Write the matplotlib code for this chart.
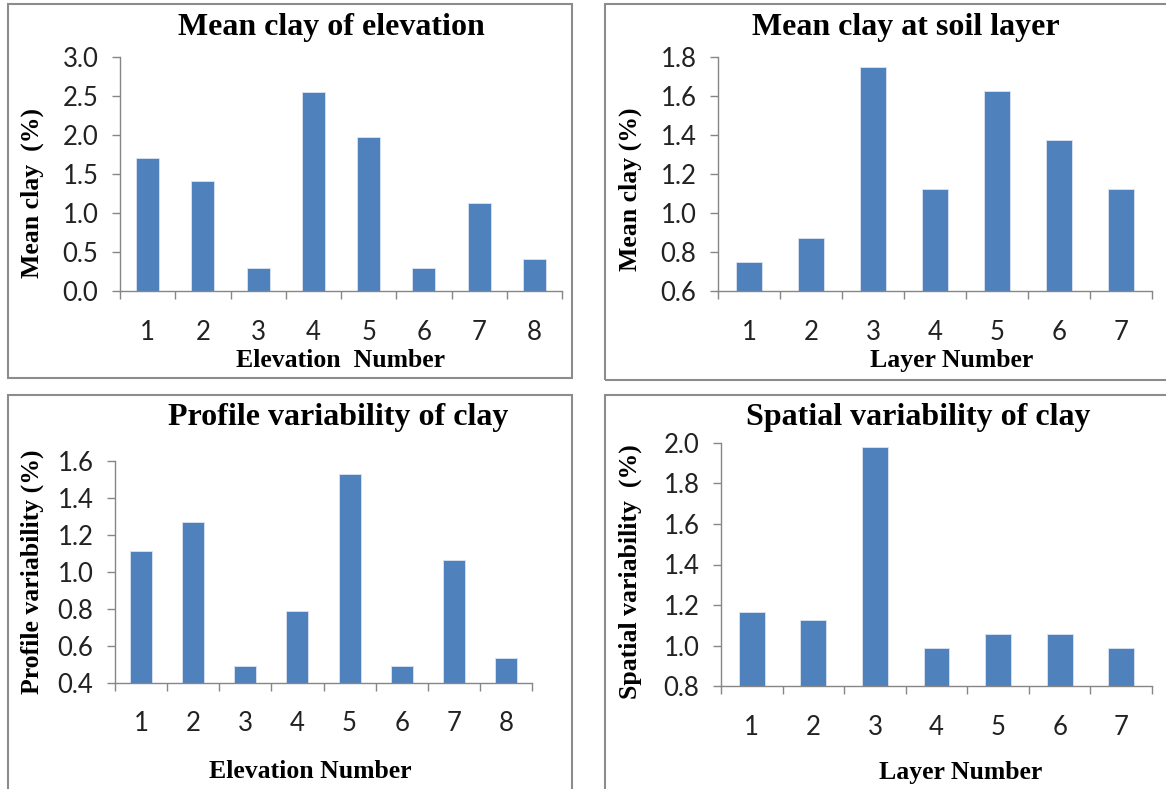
import matplotlib.pyplot as plt
from matplotlib import ticker
from matplotlib.patches import Rectangle
import numpy as np

# data
elev_cats = ['1', '2', '3', '4', '5', '6', '7', '8']
layer_cats = ['1', '2', '3', '4', '5', '6', '7']
mean_clay_elev = [1.71, 1.41, 0.29, 2.55, 1.98, 0.29, 1.13, 0.41]
mean_clay_layer = [0.75, 0.87, 1.75, 1.125, 1.625, 1.375, 1.125]
profile_var = [1.115, 1.27, 0.49, 0.79, 1.53, 0.49, 1.067, 0.535]
spatial_var = [1.166, 1.124, 1.982, 0.99, 1.059, 1.059, 0.99]

W, H = 1166, 789
BAR = '#4F81BD'
AXC = '#868686'
serif = 'Liberation Serif'
sans = 'Lato'

fig = plt.figure(figsize=(W / 100, H / 100), dpi=100)


def px_rect(l, r, b, t):
    # pixel box -> figure fraction
    return [l / W, 1 - b / H, (r - l) / W, (b - t) / H]


def panel(box, cats, vals, ylim, ystep, xpad, title, tpos, ylabel, ypos, xlabel, xpos, border):
    ax = fig.add_axes(px_rect(*box))
    x = np.arange(1, len(cats) + 1)
    ax.bar(x, vals, width=0.42, color=BAR, edgecolor='#dbe5f1', linewidth=0.6, zorder=2)
    ax.set_xlim(0.5, len(cats) + 0.5)
    ax.set_ylim(*ylim)
    ax.yaxis.set_major_locator(ticker.MultipleLocator(ystep))
    ax.yaxis.set_major_formatter(ticker.FormatStrFormatter('%.1f'))
    ax.set_xticks(x)
    ax.set_xticklabels(cats)
    ax.xaxis.set_minor_locator(ticker.FixedLocator(np.arange(0.5, len(cats) + 1, 1.0)))
    ax.tick_params(axis='x', which='major', length=0, pad=xpad)
    ax.tick_params(axis='x', which='minor', length=5.5, width=1, color=AXC, direction='out')
    ax.tick_params(axis='y', which='major', length=5.5, width=1, color=AXC, direction='out', pad=10)
    ax.tick_params(labelsize=18.5, labelcolor='#222222')
    for lab in ax.get_xticklabels() + ax.get_yticklabels():
        lab.set_fontfamily(sans)
    for s in ['top', 'right']:
        ax.spines[s].set_visible(False)
    for s in ['left', 'bottom']:
        ax.spines[s].set_color(AXC)
        ax.spines[s].set_linewidth(1)
    ax.patch.set_alpha(0)

    fig.text(tpos[0] / W, 1 - tpos[1] / H, title, ha='center', va='center',
             fontsize=23, fontweight='bold', family=serif)
    fig.text(ypos[0] / W, 1 - ypos[1] / H, ylabel, ha='center', va='center', rotation=90,
             fontsize=18.5, fontweight='bold', family=serif)
    fig.text(xpos[0] / W, 1 - xpos[1] / H, xlabel, ha='center', va='center',
             fontsize=18.5, fontweight='bold', family=serif)
    l, t, r, b = border
    fig.add_artist(Rectangle((l / W, 1 - b / H), (r - l) / W, (b - t) / H,
                             transform=fig.transFigure, fill=False,
                             edgecolor='#8c8c8c', linewidth=1.5))
    return ax


panel((120, 562, 291, 57), elev_cats, mean_clay_elev, (0, 3.0), 0.5, 21,
      'Mean clay of elevation', (331, 28), 'Mean clay  (%)', (32, 193),
      'Elevation  Number', (341, 361), (8, 4, 572, 378))
panel((718, 1152, 291, 57), layer_cats, mean_clay_layer, (0.6, 1.8), 0.2, 21,
      'Mean clay at soil layer', (906, 28), 'Mean clay (%)', (630, 189),
      'Layer Number', (952, 361), (605, 4, 1170, 380))
panel((115, 532, 683, 461), elev_cats, profile_var, (0.4, 1.6), 0.2, 20,
      'Profile variability of clay', (338, 418), 'Profile variability (%)', (32, 572),
      'Elevation Number', (310, 772), (8, 395, 572, 795))
panel((721, 1152, 686, 443), layer_cats, spatial_var, (0.8, 2.0), 0.2, 21,
      'Spatial variability of clay', (918, 418), 'Spatial variability  (%)', (630, 572),
      'Layer Number', (961, 772), (605, 395, 1170, 795))

fig.savefig('out.png', dpi=100)
